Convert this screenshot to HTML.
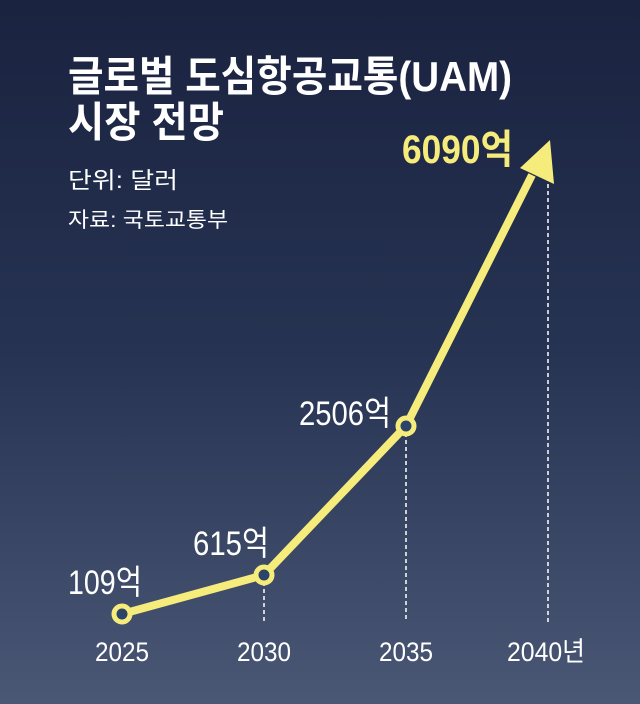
<!DOCTYPE html><html><head><meta charset="utf-8"><style>
body{margin:0;width:640px;height:704px;overflow:hidden;background:linear-gradient(#1a2340 0%,#263352 50%,#4a5775 100%);font-family:"Liberation Sans","Noto Sans CJK KR",sans-serif;}
svg{position:absolute;left:0;top:0}
</style></head><body>
<svg width="640" height="704" font-family="Liberation Sans, Noto Sans CJK KR, sans-serif">
<g fill="#fff" font-weight="bold">
<text x="68" y="91" font-size="42" textLength="444" lengthAdjust="spacingAndGlyphs">글로벌 도심항공교통(UAM)</text>
<text x="68" y="137" font-size="42" textLength="156" lengthAdjust="spacingAndGlyphs">시장 전망</text>
</g>
<text x="68" y="188" font-size="23" fill="#fff" textLength="110" lengthAdjust="spacingAndGlyphs">단위: 달러</text>
<text x="68" y="227" font-size="21" fill="#fff" textLength="160" lengthAdjust="spacingAndGlyphs">자료: 국토교통부</text>
<g stroke="#fff" stroke-width="1.5" stroke-dasharray="4,3">
<line x1="264" y1="582" x2="264" y2="622"/><line x1="406" y1="433" x2="406" y2="622"/><line x1="548" y1="170" x2="548" y2="622"/>
</g>
<polyline points="122,614 264,575 406,426 532,175" fill="none" stroke="#f6ec7c" stroke-width="8" stroke-linejoin="round"/>
<polygon points="550,140 554,184 520,168" fill="#f6ec7c"/>
<g fill="#2c4468" stroke="#f6ec7c" stroke-width="5">
<circle cx="122" cy="614" r="8"/><circle cx="264" cy="575" r="8"/><circle cx="406" cy="426" r="8"/>
</g>
<g fill="#fff" font-size="34">
<text x="68" y="594" textLength="74" lengthAdjust="spacingAndGlyphs">109억</text>
<text x="193" y="555" textLength="76" lengthAdjust="spacingAndGlyphs">615억</text>
<text x="299" y="425" textLength="92" lengthAdjust="spacingAndGlyphs">2506억</text>
</g>
<text x="402" y="163" font-size="40" fill="#f6ec7c" font-weight="bold" textLength="111" lengthAdjust="spacingAndGlyphs">6090억</text>
<g fill="#fff" font-size="27" text-anchor="middle">
<text x="122" y="661" textLength="54" lengthAdjust="spacingAndGlyphs">2025</text>
<text x="264" y="661" textLength="54" lengthAdjust="spacingAndGlyphs">2030</text>
<text x="406" y="661" textLength="54" lengthAdjust="spacingAndGlyphs">2035</text>
<text x="546" y="661" textLength="78" lengthAdjust="spacingAndGlyphs">2040년</text>
</g>
</svg></body></html>
